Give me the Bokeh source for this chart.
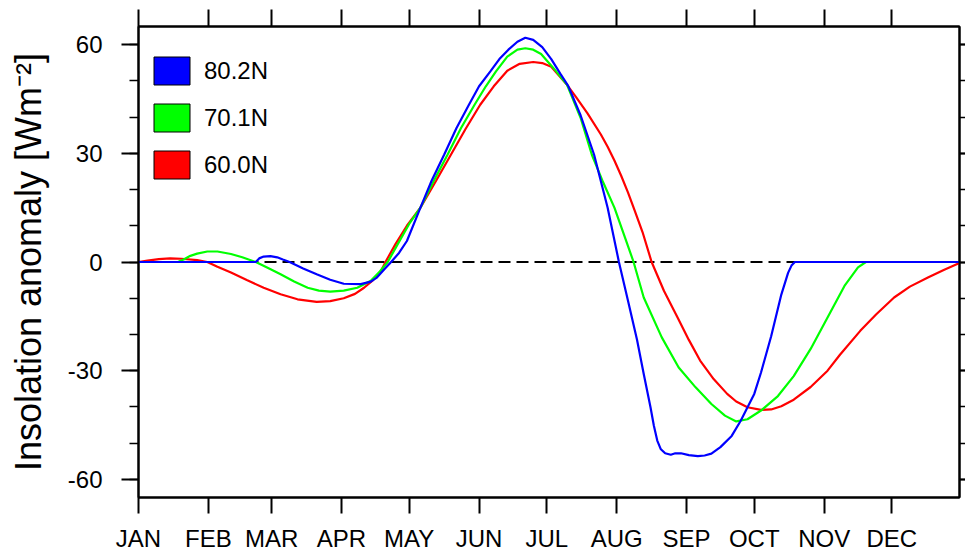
import numpy as np
from bokeh.plotting import figure
from bokeh.models import Range1d, FixedTicker, LinearAxis, Span
from bokeh.embed import file_html
from bokeh.resources import INLINE

# ---- data ----
month_days = [1, 32, 60, 91, 121, 152, 182, 213, 244, 274, 305, 335]
month_labels = ["JAN", "FEB", "MAR", "APR", "MAY", "JUN",
                "JUL", "AUG", "SEP", "OCT", "NOV", "DEC"]
y_major = [-60, -30, 0, 30, 60]
y_minor = [-60, -50, -40, -30, -20, -10, 0, 10, 20, 30, 40, 50, 60]
y_title = "Insolation anomaly [Wm\u207b\u00b2]"

series_names = ["80.2N", "70.1N", "60.0N"]

blue_day = [1, 53, 54.5, 56.5, 59.5, 62.5, 65, 68, 74, 80, 86, 92, 99.5, 104, 106.5, 110, 113,
            116.5, 120, 126, 131, 136.5, 142, 147.5, 152, 157, 161, 165, 169, 172.5, 176, 180,
            184, 188, 191.5, 197, 203, 209, 214, 218, 222, 225, 228, 229.5, 231, 232.5, 234.5,
            237, 239, 241.5, 245, 249, 252, 255, 259, 264, 268, 274, 277, 281.5, 286, 289, 290.5,
            292, 365]
blue_val = [0, 0, 1.0, 1.5, 1.6, 1.3, 0.7, 0, -1.8, -3.4, -4.9, -6.0, -6.1, -5.4, -4.4, -2.0, 0,
            2.5, 5.8, 15, 22.5, 29.6, 37, 43.4, 48.5, 52.6, 56, 58.6, 60.8, 61.9, 61.3, 59.3,
            56, 52.0, 48.6, 40.5, 29.6, 15, 0, -10.6, -21.4, -30.9, -40.1, -45.2, -49.3, -51.6, -52.8,
            -53.2, -52.8, -52.8, -53.3, -53.6, -53.4, -52.9, -51.1, -48, -43.8, -36.4, -30.5, -20.5,
            -9, -3, -1.0, 0, 0]

green_day = [1, 18.5, 21, 24, 27, 31.5, 36, 42, 47, 53, 58, 64, 70, 76, 81, 86, 92, 98, 104, 108,
             111.5, 116, 121, 126, 132, 138, 144, 150, 155, 159.5, 164.5, 169, 172.5, 176, 179.5,
             185, 191, 197, 202, 207, 212, 216, 220.5, 225, 233, 240.5, 248, 255, 261, 266, 271,
             277, 284.5, 291.5, 299, 306.5, 314, 320, 323.5, 365]
green_val = [0, 0, 0.7, 1.7, 2.3, 2.9, 2.9, 2.2, 1.3, 0, -1.5, -3.4, -5.4, -7.1, -7.9, -8.2, -7.9,
             -7.1, -5.2, -2.6, 0, 5, 10.5, 15, 22.5, 29.6, 37, 43.4, 48.5, 52.6, 56.7, 58.6, 59.0,
             58.6, 57.4, 53.5, 48.9, 39.8, 29.6, 22, 15, 8, 0, -9.8, -20.8, -29.1, -34.6, -39.2,
             -42.4, -44.0, -43.4, -41.0, -37.0, -31.5, -24, -15.3, -6.6, -1.5, 0, 0]

red_day = [1, 5, 10, 15, 20, 27, 31.5, 36, 42, 49, 56.5, 64, 71.5, 80, 86, 92, 97, 101, 105, 108.5,
           110.5, 115, 120, 126, 133, 139.5, 146, 152.5, 158.5, 164.5, 170, 176, 180, 184, 191, 195,
           200, 206, 209, 212, 215, 218, 221, 224.5, 228.5, 234, 240, 245, 250, 256, 262, 266, 271,
           277, 281.5, 286, 291.5, 299, 306.5, 312, 321, 328, 336, 343, 351, 358, 365]
red_val = [0, 0.4, 0.8, 1.0, 0.9, 0.5, 0, -1.3, -2.9, -5.0, -7.1, -8.9, -10.3, -11.0, -10.8, -10.0,
           -8.8, -7.1, -5.0, -2.5, 0, 5, 10, 15, 22.5, 29.6, 36.7, 43.4, 48.5, 52.8, 54.7, 55.2,
           54.9, 53.9, 48.9, 45.5, 41.1, 35.2, 31.8, 28.0, 23.8, 19.2, 14.2, 8.2, 0, -8, -15.3,
           -21.5, -27.2, -32.3, -36.4, -38.5, -40.1, -40.8, -40.7, -39.8, -38.0, -34.5, -30, -25.6,
           -19, -14.5, -9.8, -6.8, -4.3, -2.2, -0.3]

colors = ["#0000FF", "#00FF00", "#FF0000"]

FONT = "Liberation Sans"

p = figure(width=965, height=554,
           x_range=Range1d(1, 365), y_range=Range1d(-65, 65),
           output_backend="svg", toolbar_location=None,
           min_border_left=138, min_border_right=6, min_border_top=26, min_border_bottom=57,
           background_fill_color="white", border_fill_color="white",
           outline_line_color="black", outline_line_width=2)
p.grid.visible = False

# bottom axis
xa = p.xaxis[0]
xa.ticker = FixedTicker(ticks=month_days)
xa.major_label_overrides = {d: m for d, m in zip(month_days, month_labels)}
xa.major_tick_out = 16
xa.major_tick_in = 0
xa.minor_tick_out = 0
xa.axis_line_width = 2
xa.major_tick_line_width = 2
xa.major_label_standoff = 11
xa.major_label_text_font = FONT
xa.major_label_text_font_size = "24px"
xa.major_label_text_color = "black"

# left axis
ya = p.yaxis[0]
ya.ticker = FixedTicker(ticks=y_major, minor_ticks=y_minor)
ya.major_label_overrides = {v: str(v) for v in y_major}
ya.major_tick_out = 17
ya.major_tick_in = 0
ya.minor_tick_out = 9
ya.minor_tick_in = 0
ya.axis_line_width = 2
ya.major_tick_line_width = 2
ya.minor_tick_line_width = 1.5
ya.major_label_standoff = 19
ya.major_label_text_font = FONT
ya.major_label_text_font_size = "24px"
ya.major_label_text_color = "black"
ya.axis_label = y_title
ya.axis_label_text_font = FONT
ya.axis_label_text_font_size = "36px"
ya.axis_label_text_font_style = "normal"
ya.axis_label_text_color = "black"
ya.axis_label_standoff = 16

# top axis (ticks only)
ta = LinearAxis(ticker=FixedTicker(ticks=month_days),
                major_label_overrides={d: "" for d in month_days},
                major_tick_out=17, major_tick_in=0, minor_tick_out=0,
                axis_line_width=2, major_tick_line_width=2,
                major_label_standoff=0, major_label_text_font_size="0px")
p.add_layout(ta, "above")

# right axis (ticks only)
ra = LinearAxis(ticker=FixedTicker(ticks=y_major, minor_ticks=y_minor),
                major_label_overrides={v: "" for v in y_major},
                major_tick_out=6, major_tick_in=0, minor_tick_out=6, minor_tick_in=0,
                axis_line_width=2, major_tick_line_width=2, minor_tick_line_width=1.5,
                major_label_standoff=0, major_label_text_font_size="0px")
p.add_layout(ra, "right")

# zero line
p.add_layout(Span(location=0, dimension="width", line_color="black",
                  line_width=2, line_dash="12 6", level="underlay"))

# curves (red first, blue on top)
p.line(red_day, red_val, line_color=colors[2], line_width=2.2)
p.line(green_day, green_val, line_color=colors[1], line_width=2.2)
p.line(blue_day, blue_val, line_color=colors[0], line_width=2.2)

# legend boxes (placeholder renderers that draw nothing in the plot area)
nan = [np.nan]
for name, c in zip(series_names, colors):
    p.quad(left=nan, right=nan, top=nan, bottom=nan, fill_color=c,
           line_color="black", line_width=1, legend_label=name)

lg = p.legend[0]
lg.location = (11, 315)
lg.glyph_width = 45
lg.glyph_height = 35
lg.label_standoff = 10
lg.spacing = 12
lg.padding = 0
lg.margin = 0
lg.label_text_font = FONT
lg.label_text_font_size = "24px"
lg.label_text_color = "black"
lg.border_line_alpha = 0
lg.background_fill_alpha = 0

open("out.html", "w").write(file_html(p, INLINE))
